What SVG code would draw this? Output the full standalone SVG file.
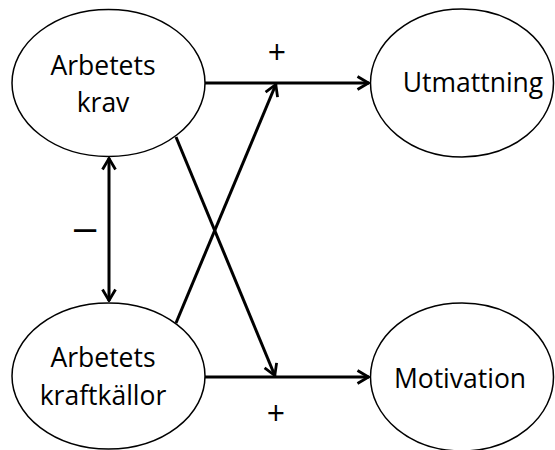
<svg xmlns="http://www.w3.org/2000/svg" width="555" height="450" viewBox="0 0 555 450">
<style>
.node ellipse{fill:#fff;stroke:#000;stroke-width:1.5}
.lbl{font-family:"Open Sans","Liberation Sans",sans-serif;font-size:26.5px;fill:#000;text-anchor:middle}
.conn line{stroke:#000;stroke-width:3}
.sign{font-family:"Open Sans","Liberation Sans",sans-serif;font-size:32px;fill:#000;text-anchor:middle}
.minus{font-family:"Liberation Sans",sans-serif;font-size:40px;fill:#000;text-anchor:middle}
</style>
<defs>
<marker id="ah" viewBox="0 0 14 16" refX="13" refY="8" markerWidth="14" markerHeight="16" markerUnits="userSpaceOnUse" orient="auto-start-reverse">
<path d="M1.5,1.5 L12.5,8 L1.5,14.5" fill="none" stroke="#000" stroke-width="2.8" stroke-linejoin="miter"/>
</marker>
</defs>
<rect width="555" height="450" fill="#fff"/>
<g id="krav" class="node">
<ellipse cx="108.5" cy="83" rx="96.5" ry="73.5"/>
<text class="lbl" x="103" y="75">Arbetets</text>
<text class="lbl" x="103" y="112">krav</text>
</g>
<g id="utmattning" class="node">
<ellipse cx="462" cy="83" rx="91.5" ry="74"/>
<text class="lbl" x="473" y="92">Utmattning</text>
</g>
<g id="kraftkallor" class="node">
<ellipse cx="108.5" cy="376" rx="96.5" ry="73"/>
<text class="lbl" x="103" y="367">Arbetets</text>
<text class="lbl" x="103" y="405">kraftkällor</text>
</g>
<g id="motivation" class="node">
<ellipse cx="462" cy="377" rx="91.5" ry="74"/>
<text class="lbl" x="460" y="388">Motivation</text>
</g>
<g id="connectors" class="conn">
<line x1="205" y1="83" x2="369" y2="83" marker-end="url(#ah)"/>
<line x1="205" y1="377" x2="369" y2="377" marker-end="url(#ah)"/>
<line x1="109" y1="158" x2="109" y2="301" marker-start="url(#ah)" marker-end="url(#ah)"/>
<line x1="176" y1="137" x2="275" y2="376" marker-end="url(#ah)"/>
<line x1="176" y1="323" x2="276" y2="84" marker-end="url(#ah)"/>
</g>
<g id="labels">
<text class="sign" x="277" y="64">+</text>
<text class="sign" x="276" y="425">+</text>
<text class="minus" x="85" y="241">–</text>
</g>
</svg>
